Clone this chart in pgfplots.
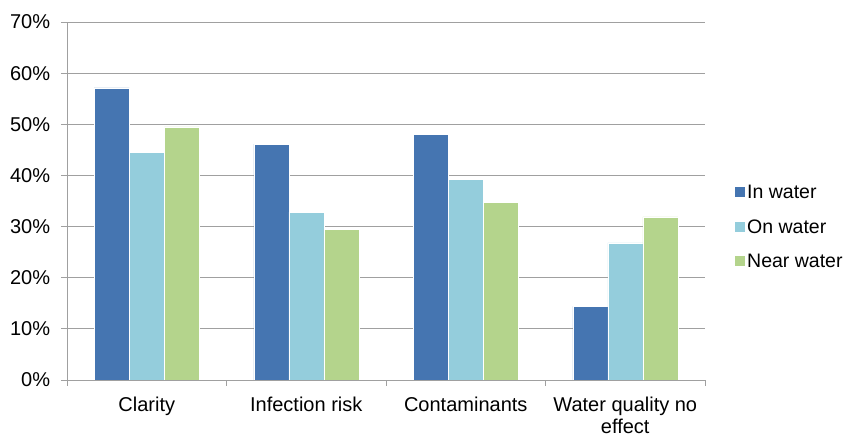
\documentclass[border=0pt]{standalone}
\usepackage{pgfplots}
\pgfplotsset{compat=1.18}
\usepackage{fontspec}
\setmainfont{Liberation Sans}
\definecolor{inw}{HTML}{4575B1}
\definecolor{onw}{HTML}{94CDDC}
\definecolor{nearw}{HTML}{B4D48C}
\definecolor{gridc}{HTML}{A0A0A0}
\begin{document}
\fontsize{20}{24}\selectfont
\begin{tikzpicture}
\begin{axis}[
  name=ax,
  scale only axis,
  width=638pt, height=358pt,
  ybar=0pt, bar width=35pt,
  xmin=0.5, xmax=4.5,
  ymin=0, ymax=70,
  xtick={1,2,3,4},
  xticklabels={Clarity, Infection risk, Contaminants, {Water quality no\\effect}},
  xticklabel style={align=center, yshift=-4pt},
  minor xtick={0.5,1.5,2.5,3.5,4.5},
  major x tick style={draw=none},
  minor tick length=6pt,
  major tick length=6pt,
  tick align=outside,
  ytick={0,10,...,70},
  /pgf/number format/assume math mode=true,
  yticklabel={\pgfmathprintnumber{\tick}\%},
  yticklabel style={xshift=-4pt},
  ymajorgrids,
  grid style={gridc, line width=0.9pt},
  axis x line*=bottom,
  axis y line*=left,
  axis line style={gridc, line width=0.9pt, -},
  tick style={gridc, line width=0.9pt},
  every tick label/.append style={font=\fontsize{20}{22}\selectfont},
  legend style={at={(1.045,0.425)}, anchor=west, draw=none, fill=none,
    inner xsep=0pt, inner ysep=0pt,
    font=\fontsize{19.5}{24}\selectfont, row sep=14pt,
    /tikz/every even column/.append style={column sep=3pt}},
  legend cell align=left,
  legend image code/.code={\fill[#1] (0pt,-4pt) rectangle (11pt,7pt);},
]
\addplot[fill=inw, draw=white, line width=0.3pt] coordinates {(1,57.1) (2,46.1) (3,48.0) (4,14.4)};
\addplot[fill=onw, draw=white, line width=0.3pt] coordinates {(1,44.5) (2,32.8) (3,39.2) (4,26.8)};
\addplot[fill=nearw, draw=white, line width=0.3pt] coordinates {(1,49.5) (2,29.5) (3,34.8) (4,31.9)};
\legend{In water, On water, Near water}
\end{axis}
\path ([xshift=-67pt,yshift=-59pt]ax.south west) rectangle ([xshift=144pt,yshift=22pt]ax.north east);
\end{tikzpicture}
\end{document}
